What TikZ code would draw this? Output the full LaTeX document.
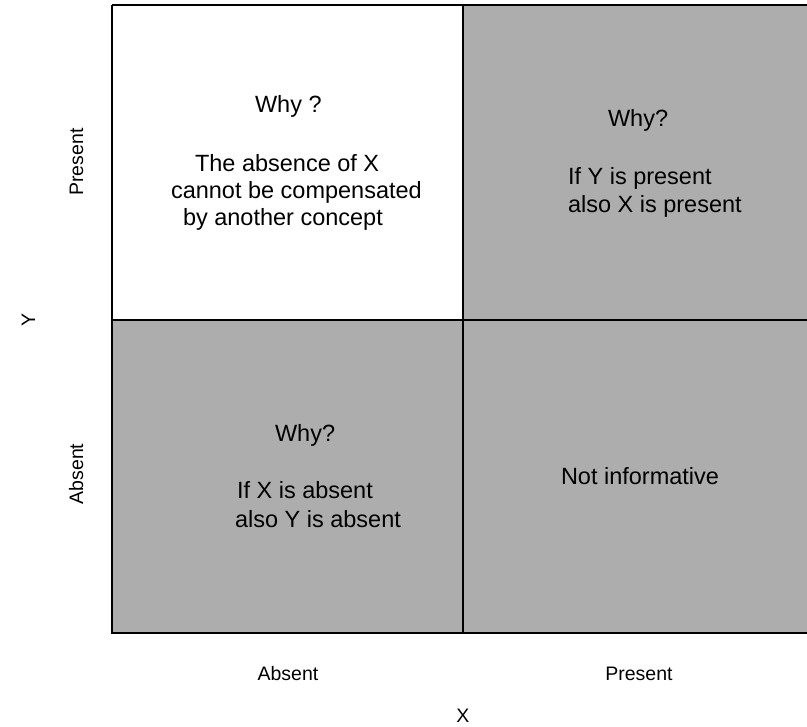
\documentclass[tikz,border=0pt]{standalone}
\usepackage{fontspec}
\setmainfont{Liberation Sans}
\usetikzlibrary{positioning}
\definecolor{cellgray}{RGB}{173,173,173}

\begin{document}
\begin{tikzpicture}[x=1pt, y=-1pt,
                      every node/.style = {inner sep=0pt, outer sep=0pt},
                      celltext/.style = {anchor=base west,
                        font=\fontsize{23.5}{28}\selectfont},
                      axistext/.style = {anchor=base,
                        font=\fontsize{19.5}{23}\selectfont},
                      gridline/.style = {line width=2.6pt}]
  \useasboundingbox (0,0) rectangle (807,727);
  % corners of the grid
  \coordinate (nw) at (112,5);
  \coordinate (n)  at (463,5);
  \coordinate (ne) at (807,5);
  \coordinate (w)  at (112,320);
  \coordinate (c)  at (463,320);
  \coordinate (e)  at (807,320);
  \coordinate (sw) at (112,633);
  \coordinate (s)  at (463,633);
  \coordinate (se) at (807,633);
  % cells
  \fill[cellgray] (n) rectangle (e);
  \fill[cellgray] (w) rectangle (se);
  \draw[line width=1.2pt] (nw) -- (ne);
  \draw[gridline] (nw) -- (sw) -- (se);
  \draw[gridline] (n) -- (s);
  \draw[gridline] (w) -- (e);
  % top left
  \node[celltext] (whyA) at (255,113) {Why ?};
  \node[celltext] (absA) at (195,172) {The absence of X};
  \node[celltext] (absB) at (171,199) {cannot be compensated};
  \node[celltext] (absC) at (183,226) {by another concept};
  % top right
  \node[celltext] (whyB) at (608,127) {Why?};
  \node[celltext] (preA) at (568,185) {If Y is present};
  \node[celltext] (preB) at (568,213) {also X is present};
  % bottom left
  \node[celltext] (whyC) at (275,442) {Why?};
  \node[celltext] (absD) at (237,499) {If X is absent};
  \node[celltext] (absE) at (235,528) {also Y is absent};
  % bottom right
  \node[celltext] (noinfo) at (561,485) {Not informative};
  % axes
  \node[axistext, rotate=90] (yPresent) at (83,162) {Present};
  \node[axistext, rotate=90] (yAbsent)  at (83,474) {Absent};
  \node[axistext, rotate=90] (ylabel)   at (35,320) {Y};
  \node[axistext] (xAbsent)  at (288,680) {Absent};
  \node[axistext] (xPresent) at (639,680) {Present};
  \node[axistext] (xlabel)   at (463,722) {X};
\end{tikzpicture}
\end{document}
